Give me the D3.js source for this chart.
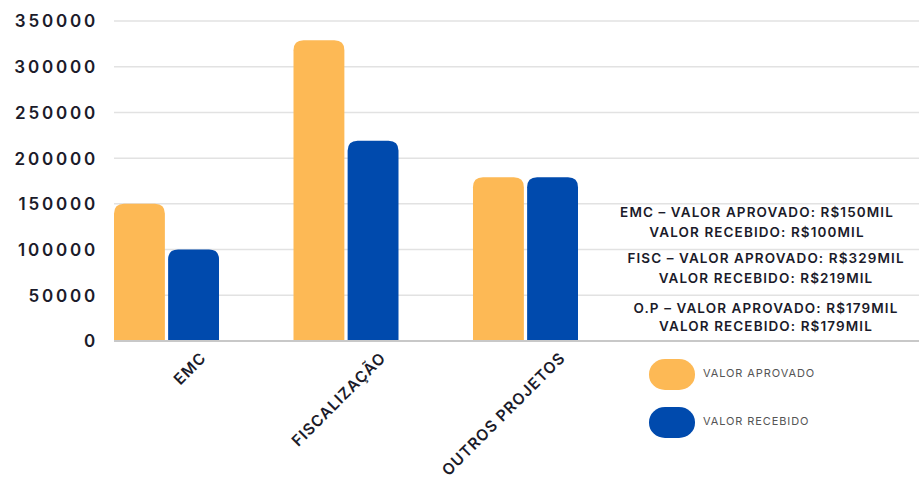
<!DOCTYPE html>
<html><head><meta charset="utf-8">
<script src="https://cdn.jsdelivr.net/npm/d3@7"></script>
<style>body{margin:0;background:#fff}svg{display:block}</style>
</head><body>
<svg id="c" width="919" height="488"></svg>
<script>
const categories = ["EMC", "FISCALIZAÇÃO", "OUTROS PROJETOS"];
const seriesNames = ["VALOR APROVADO", "VALOR RECEBIDO"];
const aprovado = [150000, 329000, 179000];
const recebido = [100000, 219000, 179000];
const yTicks = [0, 50000, 100000, 150000, 200000, 250000, 300000, 350000];
const notes = [
  ["EMC – VALOR APROVADO: R$150MIL", "VALOR RECEBIDO: R$100MIL"],
  ["FISC – VALOR APROVADO: R$329MIL", "VALOR RECEBIDO: R$219MIL"],
  ["O.P – VALOR APROVADO: R$179MIL", "VALOR RECEBIDO: R$179MIL"]
];
const colors = ["#FDB955", "#004AAD"];
const font = "Inter, 'Open Sans', sans-serif";

const svg = d3.select("#c");
const y = d3.scaleLinear().domain([0, 350000]).range([341, 21]);
const x = d3.scaleBand().domain(categories).range([114, 578]).paddingInner(0.415).paddingOuter(0);
const xs = d3.scaleBand().domain(seriesNames).range([0, x.bandwidth()]).paddingInner(0.06);

// gridlines
svg.append("g").selectAll("line").data(yTicks.filter(d => d > 0)).join("line")
  .attr("x1", 114).attr("x2", 919).attr("y1", d => y(d)).attr("y2", d => y(d))
  .attr("stroke", "#e2e2e2").attr("stroke-width", 1.5);

// y axis labels
const yAxis = d3.axisLeft(y).tickValues(yTicks).tickSize(0).tickPadding(0).tickFormat(d3.format("d"));
const ga = svg.append("g").attr("transform", "translate(98,0)").call(yAxis);
ga.select(".domain").remove();
ga.selectAll("text").attr("font-family", font).attr("font-size", 17).attr("font-weight", 600)
  .attr("letter-spacing", 2.8).attr("fill", "#1b1b2a").attr("dy", "0.35em");

// bars
function topRounded(x0, y0, w, h, r) {
  r = Math.min(r, h, w / 2);
  return `M${x0},${y0 + h}V${y0 + r}Q${x0},${y0} ${x0 + r},${y0}H${x0 + w - r}Q${x0 + w},${y0} ${x0 + w},${y0 + r}V${y0 + h}Z`;
}
const data = categories.map((c, i) => ({c, vals: [aprovado[i], recebido[i]]}));
const groups = svg.append("g").selectAll("g").data(data).join("g")
  .attr("transform", d => `translate(${x(d.c)},0)`);
groups.selectAll("path").data(d => d.vals.map((v, j) => ({v, s: seriesNames[j], j}))).join("path")
  .attr("d", d => topRounded(xs(d.s), y(d.v), xs.bandwidth(), y(0) - y(d.v), 10))
  .attr("fill", d => colors[d.j]);

// baseline
svg.append("line").attr("x1", 114).attr("x2", 919).attr("y1", y(0)).attr("y2", y(0))
  .attr("stroke", "#c8c8c8").attr("stroke-width", 2);

// x labels
const xAxis = d3.axisBottom(x).tickSize(0);
const gx = svg.append("g").attr("transform", `translate(0,${y(0)})`).call(xAxis);
gx.select(".domain").remove();
gx.selectAll("text").attr("font-family", font).attr("font-size", 15.5).attr("font-weight", 600)
  .attr("letter-spacing", 1.0)
  .attr("fill", "#1b1b2a").attr("text-anchor", "end")
  .attr("transform", "translate(31,8) rotate(-45)").attr("dy", "0.7em");

// notes
const ny = [[213, 233], [259, 279], [309, 327]];
const nx = [757, 766, 766];
notes.forEach((pair, i) => {
  pair.forEach((t, k) => {
    svg.append("text").attr("x", nx[i]).attr("y", ny[i][k]).attr("text-anchor", "middle")
      .attr("dominant-baseline", "middle")
      .attr("font-family", font).attr("font-size", 13.5).attr("font-weight", 600)
      .attr("letter-spacing", 1.1)
      .attr("fill", "#1b1b2a").text(t);
  });
});

// legend
const lg = svg.append("g").selectAll("g").data(seriesNames).join("g")
  .attr("transform", (d, i) => `translate(649,${359 + i * 48})`);
lg.append("rect").attr("width", 46).attr("height", 31).attr("rx", 16).attr("ry", 15)
  .attr("fill", (d, i) => colors[i]);
lg.append("text").attr("x", 54).attr("y", 15).attr("dominant-baseline", "middle")
  .attr("font-family", font).attr("font-size", 11).attr("letter-spacing", 0.9)
  .attr("fill", "#555").text(d => d);
</script>
</body></html>
